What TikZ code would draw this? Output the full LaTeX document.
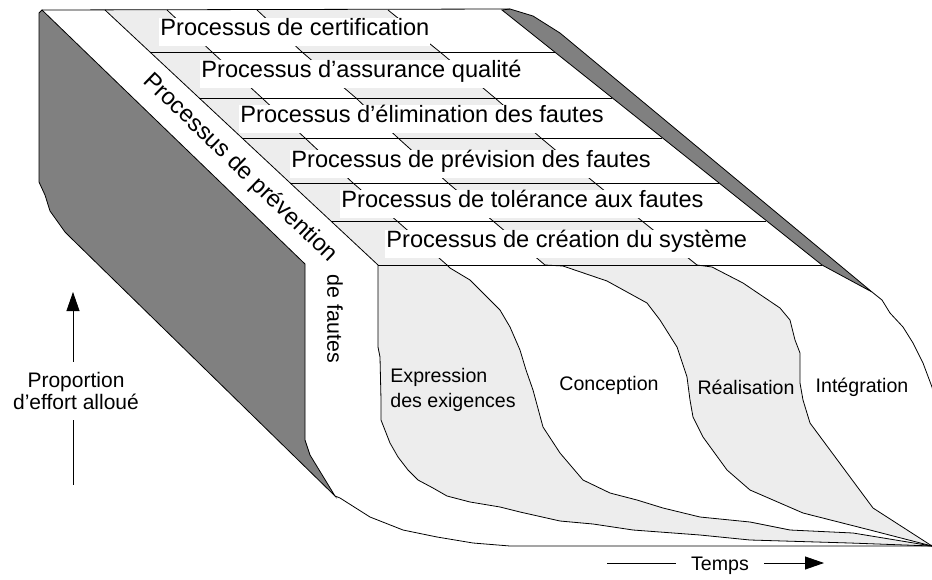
\documentclass[tikz,border=0pt]{standalone}
\usepackage{fontspec}
\setmainfont{Liberation Sans}
\usetikzlibrary{arrows.meta}

\definecolor{lgray}{gray}{0.93}
\definecolor{dgray}{gray}{0.5}

% phase boundaries: top face part, then front face part
\newcommand{\pathA}{(105,10) -- (378,265) -- (378,347) -- (380,357) -- (381,400) -- (381,420) -- (390,443) -- (398,457) -- (408,470) -- (418,480) -- (433,488) -- (447,496) -- (470,502) -- (500,507) -- (520,512) -- (560,521) -- (593,524) -- (633,530) -- (700,535) -- (750,540) -- (850,543) -- (932,546)}
\newcommand{\pathB}{(167,10) -- (212,52) -- (262,98) -- (305,138) -- (353,183) -- (397,221) -- (447,265) -- (450,268) -- (470,280) -- (483,293) -- (500,310) -- (510,327) -- (520,350) -- (526,370) -- (533,390) -- (543,427) -- (560,453) -- (583,480) -- (610,493) -- (637,500) -- (663,508) -- (700,517) -- (750,522) -- (790,530) -- (853,533) -- (932,546)}
\newcommand{\pathC}{(257,10) -- (302,52) -- (356,98) -- (398,138) -- (448,183) -- (493,221) -- (545,265) -- (563,266) -- (607,281) -- (647,303) -- (660,320) -- (677,347) -- (687,377) -- (690,400) -- (693,417) -- (703,437) -- (727,470) -- (750,490) -- (803,513) -- (870,530) -- (932,546)}
\newcommand{\pathD}{(388,10) -- (440,52) -- (495,98) -- (541,138) -- (595,183) -- (642,221) -- (697,265) -- (712,267) -- (743,283) -- (780,308) -- (790,320) -- (795,340) -- (800,353) -- (800,383) -- (803,400) -- (810,423) -- (830,450) -- (850,477) -- (873,508) -- (932,546)}
\newcommand{\pathE}{(872,292) -- (882,300) -- (890,313) -- (903,327) -- (913,343) -- (923,363) -- (932,387) -- (940,420) -- (945,480) -- (932,546)}

\begin{document}
\begin{tikzpicture}[
		x=1pt, y=-1pt,
		line width=0.8pt,
		band/.style={anchor=base west, fill=white, inner xsep=1pt, inner ysep=1pt,
			text height=16pt, text depth=10pt, font=\fontsize{23.6}{28}\selectfont},
		phase/.style={anchor=base, inner sep=0pt, font=\fontsize{19.6}{25}\selectfont},
		arr/.style={-{Triangle[length=19pt,width=13pt]}}
		]
		\useasboundingbox (0,0) rectangle (932,579);
		\clip (0,0) rectangle (932,579);
		
		% phases, painted from left to right
		\fill[lgray] \pathA -- (960,546) -- (960,10) -- cycle;
		\fill[white] \pathB -- (960,546) -- (960,10) -- cycle;
		\fill[lgray] \pathC -- (960,546) -- (960,10) -- cycle;
		\fill[white] \pathD -- (960,546) -- (960,10) -- cycle;
		\fill[white] (510,9) -- (533,16) -- (560,33) -- \pathE -- (960,546) -- (960,-10) -- (510,-10) -- cycle;
		
		% side faces
		\filldraw[fill=dgray] (502,10) -- (510,9) -- (533,16) -- (560,33) -- (872,292) -- (822,265) -- cycle;
		\filldraw[fill=dgray] (39,13) -- (42,10) -- (305,264) -- (305,440) -- (310,455) -- (335,496)
			-- (70,237) -- (65,232) -- (50,211) -- (45,195) -- (39,182) -- cycle;
		
		% edges
		\draw (42,10) -- (510,9);
		\draw \pathA;
		\draw \pathB;
		\draw \pathC;
		\draw \pathD;
		\draw \pathE;
		\draw (335,496) -- (340,498) -- (370,517) -- (403,530) -- (437,537) -- (473,543) -- (510,546) -- (932,546);
		\foreach \y in {52,98,138,183,221,265}
			\draw ({105+(\y-10)*1.0706},\y) -- ({502+(\y-10)*1.2535},\y);
		
		% processes
		\node[band] (certif) at (159,35) {Processus de certification};
		\node[band] (qualite) at (200,77) {Processus d’assurance qualité};
		\node[band] (elimin) at (239,122) {Processus d’élimination des fautes};
		\node[band] (prevision) at (290,167) {Processus de prévision des fautes};
		\node[band] (tolerance) at (340,207) {Processus de tolérance aux fautes};
		\node[band] (creation) at (385,247) {Processus de création du système};
		\node[rotate=-44, font=\fontsize{23.6}{28}\selectfont] (prevention) at (240,168) {Processus de prévention};
		\node[rotate=-90, font=\fontsize{21.4}{26}\selectfont] (fautes) at (335,319) {de fautes};
		
		% phases
		\node[phase, anchor=base west] (expression) at (390,382) {Expression};
		\node[phase, anchor=base west] (exigences) at (390,407) {des exigences};
		\node[phase] (conception) at (609,390) {Conception};
		\node[phase] (realisation) at (746,394) {Réalisation};
		\node[phase] (integration) at (862,392) {Intégration};
		
		% axes
		\node[align=center, inner ysep=10pt, font=\fontsize{21}{22}\selectfont] (effort) at (76,391) {Proportion\\d'effort alloué};
		\coordinate (efftop) at (73,292);
		\coordinate (effbot) at (73,485);
		\draw[arr] (effort.north -| efftop) -- (efftop);
		\draw (effort.south -| effbot) -- (effbot);
		
		\node[phase, inner xsep=15pt] (temps) at (720,570) {Temps};
		\coordinate (tempsstart) at (607,563);
		\coordinate (tempsend) at (824,563);
		\draw (tempsstart) -- (tempsstart -| temps.west);
		\draw[arr] (tempsend -| temps.east) -- (tempsend);
\end{tikzpicture}
\end{document}
